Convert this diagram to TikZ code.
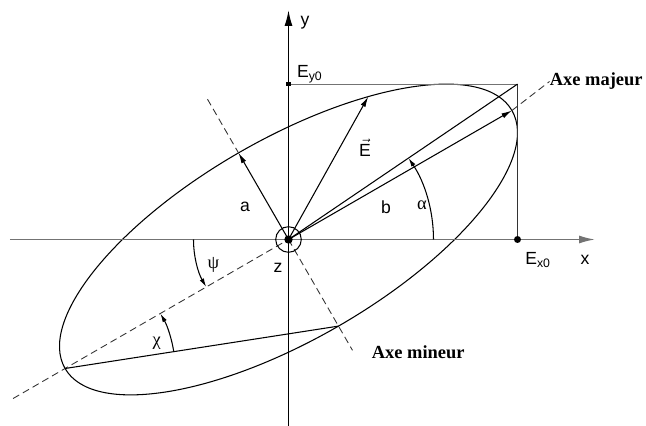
\documentclass[tikz,border=0pt]{standalone}
\usepackage{fontspec}
\setmainfont{Liberation Serif}
\setsansfont{Liberation Sans}
\usetikzlibrary{arrows.meta, calc}

\begin{document}
\begin{tikzpicture}[x=0.02cm, y=0.02cm,
    axis/.style={line width=0.9pt, -{Latex[length=9pt, width=4.5pt]}},
    vect/.style={line width=0.6pt, -{Latex[length=6pt, width=3pt]}},
    angarc/.style={line width=0.6pt, -{Latex[length=5pt, width=2.6pt]}},
    thinline/.style={line width=0.6pt},
    axedash/.style={line width=0.5pt, black!80, dash pattern=on 4pt off 2.4pt},
    lbl/.style={font=\sffamily\fontsize{10}{12}\selectfont, inner sep=1pt},
    greek/.style={font=\fontsize{10.5}{12}\selectfont, inner sep=1pt},
    axename/.style={font=\bfseries\fontsize{10.5}{12}\selectfont, inner sep=0pt, anchor=west}
  ]
  \useasboundingbox (-288.5,-186.5) rectangle (357.5,239.5);
  \coordinate (O) at (0,0);
  \coordinate (xbeg) at (-278.5,0);
  \coordinate (xend) at (306.5,0);
  \coordinate (ybeg) at (0,-186.5);
  \coordinate (yend) at (0,229.5);
  \coordinate (Ex0) at (229,0);
  \coordinate (Ey0) at (0,155.4);
  \coordinate (C) at (229,155.4);
  \begin{scope}[rotate=30]
    \coordinate (B) at (258,0);
    \coordinate (Bneg) at (-258,0);
    \coordinate (A) at (0,100);
    \coordinate (Aneg) at (0,-100);
    \coordinate (E) at ({258*cos(57)},{100*sin(57)});
    \coordinate (majbeg) at (-318,0);
    \coordinate (minbeg) at (0,162);
    \coordinate (minend) at (0,-128);
    \draw [thinline] (O) ellipse [x radius=258, y radius=100];
  \end{scope}

  \node [axename] (majname) at (261,158) {Axe majeur};
  \node [axename] (minname) at (83,-112.5) {Axe mineur};
  \draw [axedash] (B) -- (majname.west);
  \draw [axedash] (majbeg) -- (O);
  \draw [axedash] (minbeg) -- (A);
  \draw [axedash] (O) -- (minend);

  \draw [thinline, black!55] (Ey0) -- (C);
  \draw [thinline, black!80] (C) -- (Ex0);
  \draw [axis, black!55] (xbeg) -- (xend);
  \draw [axis] (ybeg) -- (yend);

  \draw [vect] (O) -- (A);
  \draw [vect] (O) -- (B);
  \draw [vect] (O) -- (E);
  \draw [thinline] (O) -- (C);
  \draw [thinline] (Bneg) -- (Aneg);

  \draw [angarc] (O) ++(0:145) arc [start angle=0, end angle=34.16, radius=145];
  \draw [angarc] (O) ++(180:95) arc [start angle=180, end angle=210, radius=95];
  \draw [angarc] (Bneg) ++(8.8:110) arc [start angle=8.8, end angle=30, radius=110];

  \draw [thinline] (O) circle [radius=12.8];
  \fill (O) circle [radius=4.2];
  \fill (Ex0) circle [radius=3.5];
  \fill (Ey0) +(-2.2,-2.2) rectangle +(2.2,2.2);

  \node [lbl] (xlbl) at (296.5,-20.5) {x};
  \node [lbl] (ylbl) at (16.5,216.5) {y};
  \node [lbl] (zlbl) at (-10.5,-28.5) {z};
  \node [lbl] (albl) at (-43.5,32.8) {a};
  \node [lbl] (blbl) at (97.5,32.5) {b};
  \node [lbl, anchor=base] (Elbl) at (76.5,83) {$\vec{\textsf{E}}$};
  \node [lbl, anchor=base west] (Ey0lbl) at (6.5,161.5) {E\textsubscript{y0}};
  \node [lbl, anchor=base west] (Ex0lbl) at (234.7,-25) {E\textsubscript{x0}};
  \node [greek] (alphalbl) at (133.5,34.5) {α};
  \node [greek] (psilbl) at (-75,-25.5) {ψ};
  \node [greek] (chilbl) at (-131.8,-103.8) {χ};
\end{tikzpicture}
\end{document}
